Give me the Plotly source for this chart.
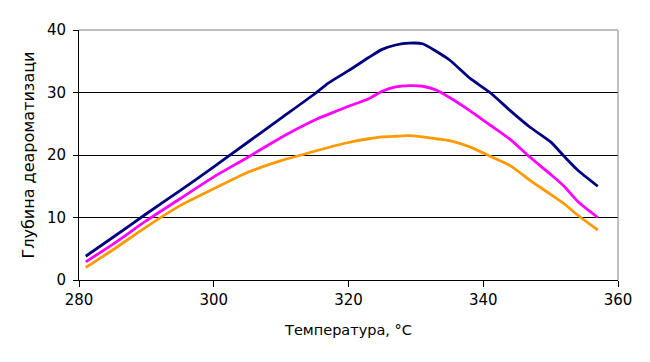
import plotly.graph_objects as go

temps = [281, 285, 290, 295, 300, 305, 310, 315, 317, 320, 323, 325, 327, 329,
         331, 333, 335, 338, 341, 344, 347, 350, 352, 354, 357]
navy_vals = [3.8, 6.8, 10.6, 14.3, 18.1, 22.0, 25.9, 29.8, 31.5, 33.5, 35.6, 36.9,
             37.6, 37.9, 37.8, 36.6, 35.2, 32.3, 30.0, 27.1, 24.4, 22.1, 19.8, 17.6, 15.0]
magenta_vals = [2.9, 5.7, 9.5, 13.0, 16.5, 19.6, 22.8, 25.6, 26.5, 27.8, 29.0, 30.2,
                30.9, 31.1, 31.0, 30.4, 29.2, 27.1, 24.8, 22.5, 19.6, 16.9, 15.0, 12.6, 10.0]
orange_vals = [2.0, 4.8, 8.5, 11.9, 14.6, 17.2, 19.1, 20.6, 21.2, 22.0, 22.6, 22.9,
               23.0, 23.1, 22.9, 22.6, 22.3, 21.3, 19.8, 18.3, 15.9, 13.7, 12.2, 10.4, 8.0]

x_title = "Температура, °C"
y_title = "Глубина деароматизаци"

fig = go.Figure()
for vals, col in [(orange_vals, "#FF9900"), (magenta_vals, "#FF00FF"), (navy_vals, "#000080")]:
    fig.add_trace(go.Scatter(x=temps, y=vals, mode="lines",
                             line=dict(color=col, width=2.8, shape="spline", smoothing=0.6),
                             showlegend=False, hoverinfo="skip"))

font = dict(family="DejaVu Sans", size=15, color="black")
xtfont = dict(family="DejaVu Sans", size=14.5, color="black")
ytfont = dict(family="DejaVu Sans", size=16, color="black")
fig.update_layout(
    width=650, height=362,
    margin=dict(l=71, r=40, t=22, b=90),
    paper_bgcolor="white", plot_bgcolor="white",
    font=font,
    xaxis=dict(range=[280, 360], tickvals=[280, 300, 320, 340, 360], automargin=False,
               showgrid=False, zeroline=False, showline=True, linecolor="black", linewidth=1,
               ticks="outside", ticklen=6, tickcolor="black", tickfont=font,
               title=dict(text=x_title, font=xtfont, standoff=16)),
    yaxis=dict(range=[0, 40], tickvals=[0, 10, 20, 30, 40], automargin=False,
               showgrid=True, gridcolor="black", gridwidth=1, zeroline=False,
               showline=True, linecolor="black", linewidth=1,
               ticks="outside", ticklen=5, tickcolor="black", tickfont=font,
               ticklabelstandoff=4,
               title=dict(text=y_title, font=ytfont, standoff=8)),
    shapes=[
        dict(type="line", xref="paper", yref="paper", x0=0, x1=1, y0=1, y1=1,
             line=dict(color="#808080", width=1)),
        dict(type="line", xref="paper", yref="paper", x0=1, x1=1, y0=0, y1=1,
             line=dict(color="#808080", width=1)),
    ],
)

fig.write_html("out.html")
